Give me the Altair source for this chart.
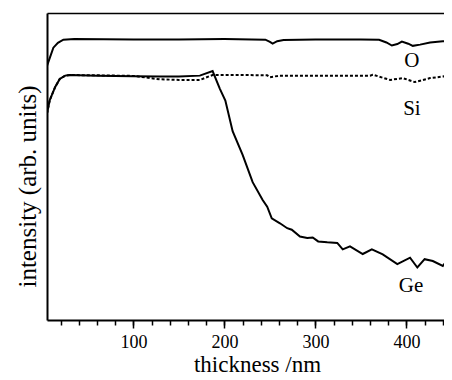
import altair as alt
import pandas as pd

# ---- data (thickness in nm, intensity in arb. units) ----
O_t = [5, 12, 17, 23, 35, 100, 150, 200, 245, 250, 253, 258, 265, 300, 350, 370, 378, 384, 390, 395, 402, 407, 415, 426, 440, 450]
O_v = [82.8, 88.7, 90.3, 91.3, 91.5, 91.4, 91.4, 91.5, 91.3, 90.6, 90.0, 90.8, 91.2, 91.4, 91.4, 91.3, 90.4, 89.4, 89.9, 90.7, 90.0, 89.3, 89.7, 90.4, 90.8, 91.0]

Si_t = [5, 8, 14, 19, 25, 30, 60, 100, 129, 150, 173, 187, 220, 247, 250, 261, 305, 360, 363, 382, 396, 409, 426, 448]
Si_v = [67.3, 71.6, 75.9, 78.5, 79.6, 79.8, 79.7, 79.5, 78.4, 78.2, 78.2, 79.8, 79.8, 79.7, 79.1, 79.6, 79.6, 79.6, 79.9, 78.2, 78.8, 77.5, 78.8, 79.6]

Ge_t = [5, 8, 14, 19, 25, 30, 60, 100, 129, 150, 173, 187, 195, 201, 209, 220, 231, 242, 247, 252, 261, 269, 274, 283, 291, 297, 303, 313, 324, 330, 338, 352, 362, 374, 390, 404, 412, 420, 429, 440, 448]
Ge_v = [67.3, 71.6, 75.9, 78.5, 79.6, 79.8, 79.6, 79.4, 79.3, 79.3, 79.6, 81.1, 75.3, 71.5, 61.5, 53.8, 44.9, 39.1, 36.9, 33.1, 31.5, 29.9, 29.4, 27.2, 26.7, 26.9, 25.6, 25.3, 25.1, 23.0, 24.0, 21.5, 23.0, 21.4, 18.2, 20.3, 17.1, 19.8, 19.2, 17.6, 20.8]

series_names = ["O", "Si", "Ge"]
label_t = [406, 406, 405]
label_v = [82.4, 66.7, 9.0]

minor_ticks = [20, 40, 60, 80, 100, 120, 140, 160, 180, 200, 220, 240, 260, 280, 300, 320, 340, 360, 380, 400, 420, 440]
major_ticks = [100, 200, 300, 400]

rows = []
for name, ts, vs in zip(series_names, [O_t, Si_t, Ge_t], [O_v, Si_v, Ge_v]):
    for i, (t, v) in enumerate(zip(ts, vs)):
        rows.append({"series": name, "t": t, "v": v, "order": i})
df = pd.DataFrame(rows)
solid_df = df[df["series"] != "Si"]
dotted_df = df[df["series"] == "Si"]
lab_df = pd.DataFrame({"name": series_names, "t": label_t, "v": label_v})

FONT = "Liberation Serif"
xscale = alt.Scale(domain=[5, 441.3], nice=False, zero=False)
yscale = alt.Scale(domain=[0, 100], nice=False, zero=False)

y_axis = alt.Axis(
    domain=True, domainColor="black", domainWidth=2,
    ticks=False, labels=False, grid=False,
    title="intensity (arb. units)", titleFont=FONT, titleFontSize=25,
    titleFontWeight="normal", titleColor="black",
    titleAngle=270, titleX=-12, titleY=173, titleAlign="center",
    titleBaseline="alphabetic",
)

# solid lines (O, Ge) carry the minor-tick bottom axis
solid = alt.Chart(solid_df).mark_line(strokeWidth=2, color="black", clip=True).encode(
    x=alt.X("t:Q", scale=xscale, axis=alt.Axis(
        orient="bottom", values=minor_ticks, tickSize=5, tickWidth=1.5,
        tickColor="black", labels=False, domain=True, domainColor="black",
        domainWidth=2, grid=False, title=None)),
    y=alt.Y("v:Q", scale=yscale, axis=y_axis),
    detail="series:N",
    order="order:Q",
)

# dotted Si line carries the top frame line
dotted = alt.Chart(dotted_df).mark_line(
    strokeWidth=2, color="black", strokeDash=[3, 2], clip=True
).encode(
    x=alt.X("t:Q", scale=xscale, axis=alt.Axis(
        orient="top", ticks=False, labels=False, domain=True,
        domainColor="black", domainWidth=1.3, grid=False, title=None)),
    y=alt.Y("v:Q", scale=yscale, axis=y_axis),
    order="order:Q",
)

texts = alt.Chart(lab_df).mark_text(
    font=FONT, fontSize=21, baseline="alphabetic", align="center", color="black"
).encode(
    x=alt.X("t:Q", scale=xscale, axis=alt.Axis(
        orient="bottom", values=major_ticks, tickSize=8, tickWidth=1.5,
        tickColor="black", labels=True, labelFont=FONT, labelFontSize=18,
        labelColor="black", labelPadding=5, domain=False, grid=False,
        title="thickness /nm", titleFont=FONT, titleFontSize=23,
        titleFontWeight="normal", titleColor="black", titleX=210, titleY=51,
        titleBaseline="alphabetic")),
    y=alt.Y("v:Q", scale=yscale, axis=y_axis),
    text="name:N",
)

chart = alt.layer(solid, dotted, texts).resolve_axis(x="independent").properties(
    width=397, height=307,
    autosize=alt.AutoSizeParams(type="none"),
    padding={"left": 39, "top": 5, "right": 0, "bottom": 52},
).configure_view(stroke=None)

chart.save("out.html", embed_options={"renderer": "svg", "actions": False})
